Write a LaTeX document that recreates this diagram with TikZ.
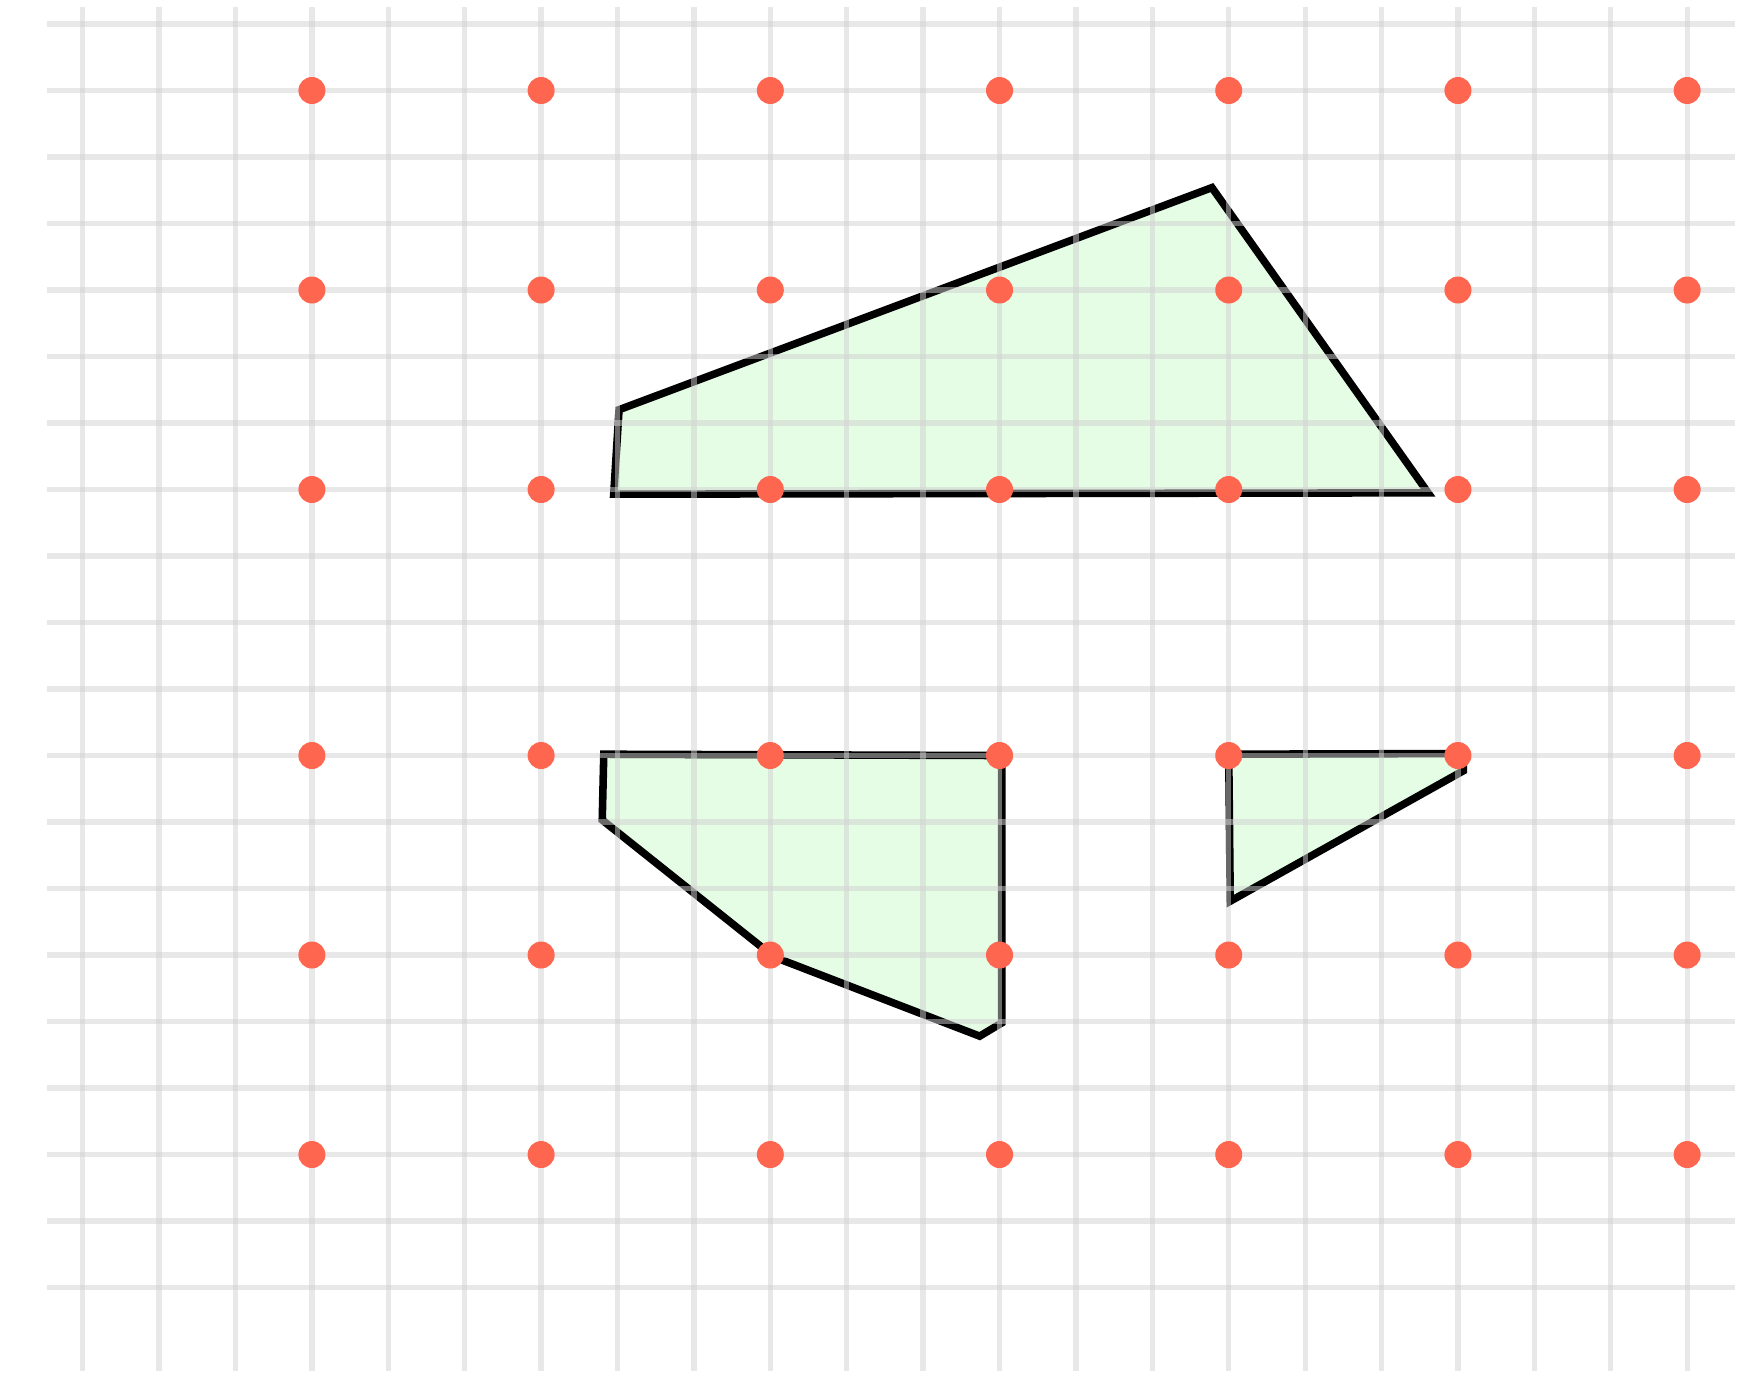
\documentclass[tikz,border=0pt]{standalone}
\usepackage{tikz}
\definecolor{dotred}{RGB}{255,102,80}
\definecolor{areagreen}{RGB}{229,252,229}

\begin{document}
\begin{tikzpicture}
[
  x=1.528cm,
  y=-1.33cm,
  region/.style={draw=black, fill=areagreen, line width=4.3pt},
  gridline/.style={draw=black!18, opacity=0.5, line width=3pt},
  dot/.style={circle, fill=dotred, inner sep=0pt, minimum size=0.54cm}
]
 \useasboundingbox (-1.0825,-0.361) rectangle (21.98,20.316);

 % shaded regions
 \filldraw[region] (6.95,7.07) -- (7.02,5.80) -- (14.78,2.46) -- (17.61,7.05) -- cycle;
 \filldraw[region] (6.82,10.98) -- (12.03,11.0) -- (12.03,15.02) -- (11.74,15.22)
   -- (9.05,14.03) -- (6.80,11.97) -- cycle;
 \filldraw[region] (15.0,10.98) -- (18.07,10.97) -- (18.07,11.23) -- (15.02,13.19) -- cycle;

 % grid on top
 \foreach \r in {0,...,19}
   \draw[gridline] (-0.467,\r) -- (21.63,\r);
 \foreach \c in {0,...,21}
   \draw[gridline] (\c,-0.26) -- (\c,20.25);

 \foreach \c in {3,6,...,21}
   \foreach \r in {1,4,7,11,14,17}
     \node[dot] (p-\c-\r) at (\c,\r) {};
\end{tikzpicture}
\end{document}
